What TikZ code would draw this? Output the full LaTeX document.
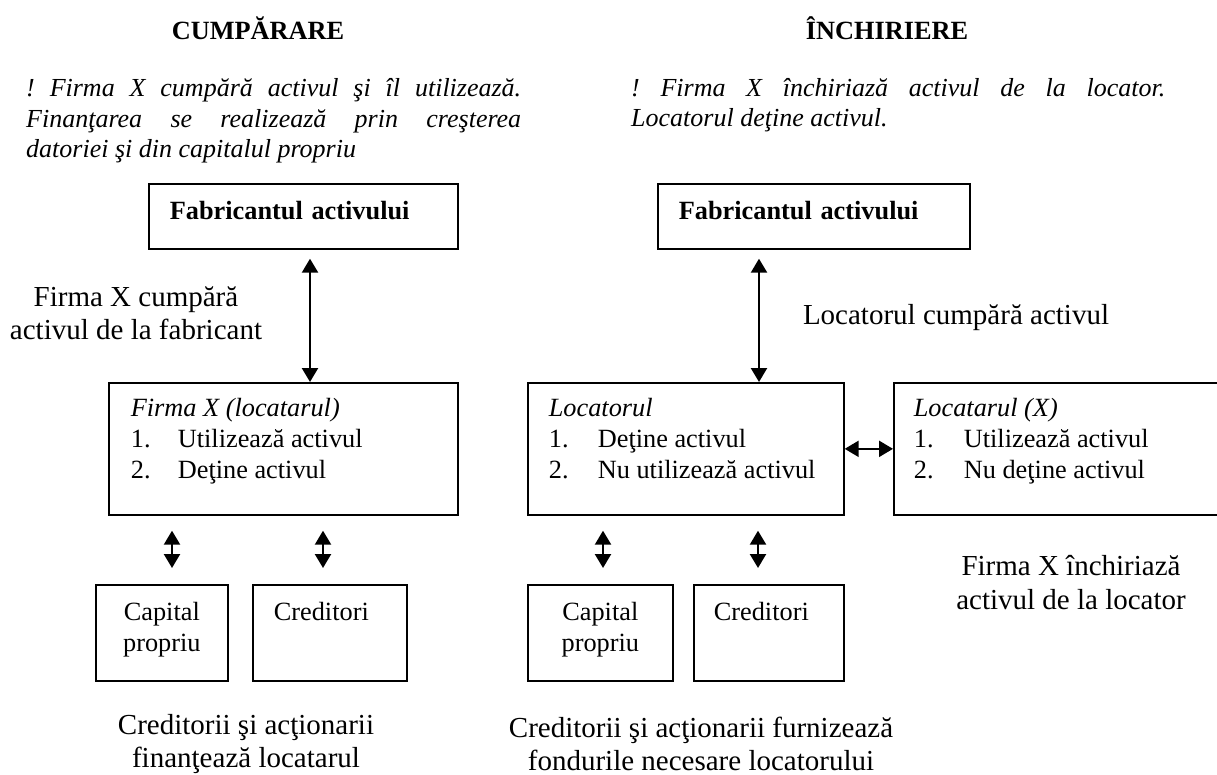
\documentclass[tikz,border=0pt]{standalone}
\usepackage{fontspec}
\setmainfont{Liberation Serif}
\usetikzlibrary{arrows.meta}
\newcommand{\bxl}[3]{\parbox[c][#1][t]{#2}{#3}}
\newcommand{\itm}[2]{\makebox[#1][l]{#2}}
\frenchspacing
\begin{document}
\begin{tikzpicture}[x=1pt,y=-1pt,
  box/.style={draw,line width=1.7pt,rectangle,inner sep=0pt,anchor=north west,
    font=\fontsize{26.3}{31}\selectfont},
  txt/.style={inner sep=0pt,align=center,font=\fontsize{29}{33}\selectfont},
  ttl/.style={inner sep=0pt,font=\fontsize{26.3}{30}\selectfont\bfseries},
  para/.style={inner sep=0pt,anchor=west,align=left,font=\fontsize{26}{30.5}\selectfont\itshape},
  dbl/.style={line width=2.3pt,{Triangle[length=14pt,width=16pt]}-{Triangle[length=14pt,width=16pt]}}
]
\useasboundingbox (0,0) rectangle (1217,775);

% titles
\node[ttl] (t1) at (258,28) {CUMPĂRARE};
\node[ttl] (t2) at (887,28) {ÎNCHIRIERE};

% paragraphs
\node[para] (p1) at (26,121) {\makebox[495pt][s]{! Firma X cumpără activul şi îl utilizează.}\\
\makebox[495pt][s]{Finanţarea se realizează prin creşterea}\\
datoriei şi din capitalul propriu};
\node[para] (p2) at (631,105) {\makebox[534pt][s]{! Firma X închiriază activul de la locator.}\\
Locatorul deţine activul.};

% left side
\node[box,minimum width=309pt,minimum height=65pt,text width=267pt,align=left,
  text height=18pt,text depth=12pt] (fab1) at (148,183)
  {\bfseries Fabricantul activului};
\node[box,minimum width=349pt,minimum height=132pt] (firma) at (108,382)
  {\bxl{108pt}{305pt}{\strut\textit{Firma X (locatarul)}\\
   \itm{47pt}{1.}Utilizează activul\\
   \itm{47pt}{2.}Deţine activul}};
\node[box,minimum width=132pt,minimum height=96pt] (cap1) at (95,584)
  {\bxl{68pt}{132pt}{\centering\strut Capital\\propriu}};
\node[box,minimum width=154pt,minimum height=96pt] (cred1) at (252,584)
  {\bxl{68pt}{112pt}{\strut Creditori}};

% right side
\node[box,minimum width=312pt,minimum height=65pt,text width=270pt,align=left,
  text height=18pt,text depth=12pt] (fab2) at (657,183)
  {\bfseries Fabricantul activului};
\node[box,minimum width=316pt,minimum height=132pt] (locator) at (527,382)
  {\bxl{108pt}{274pt}{\strut\textit{Locatorul}\\
   \itm{49pt}{1.}Deţine activul\\
   \itm{49pt}{2.}Nu utilizează activul}};
\node[box,minimum width=360pt,minimum height=132pt] (locatar) at (893,382)
  {\bxl{108pt}{320pt}{\strut\textit{Locatarul (X)}\\
   \itm{50pt}{1.}Utilizează activul\\
   \itm{50pt}{2.}Nu deţine activul}};
\node[box,minimum width=145pt,minimum height=96pt] (cap2) at (527,584)
  {\bxl{68pt}{145pt}{\centering\strut Capital\\propriu}};
\node[box,minimum width=150pt,minimum height=96pt] (cred2) at (693,584)
  {\bxl{68pt}{110pt}{\strut Creditori}};

% labels
\node[txt] (l1) at (136,313) {Firma X cumpără\\activul de la fabricant};
\node[txt] (l2) at (956,318) {Locatorul cumpără activul};
\node[txt,font=\fontsize{29}{34}\selectfont] (l3) at (1071,583) {Firma X închiriază\\activul de la locator};
\node[txt] (l4) at (246,744) {Creditorii şi acţionarii\\finanţează locatarul};
\node[txt] (l5) at (701,744) {Creditorii şi acţionarii furnizează\\fondurile necesare locatorului};

% connectors
\coordinate (ax1) at (310,0);
\coordinate (ax2) at (759,0);
\coordinate (s1) at (172,0);
\coordinate (s2) at (323,0);
\coordinate (s3) at (603,0);
\coordinate (s4) at (758,0);
\draw[dbl,shorten <=9pt] (fab1.south -| ax1) -- (firma.north -| ax1);
\draw[dbl,shorten <=9pt] (fab2.south -| ax2) -- (locator.north -| ax2);
\draw[dbl] (locator.east) -- (locatar.west);
\draw[dbl,shorten <=15pt,shorten >=16pt] (firma.south -| s1) -- (cap1.north -| s1);
\draw[dbl,shorten <=15pt,shorten >=16pt] (firma.south -| s2) -- (cred1.north -| s2);
\draw[dbl,shorten <=15pt,shorten >=16pt] (locator.south -| s3) -- (cap2.north -| s3);
\draw[dbl,shorten <=15pt,shorten >=16pt] (locator.south -| s4) -- (cred2.north -| s4);
\end{tikzpicture}
\end{document}
